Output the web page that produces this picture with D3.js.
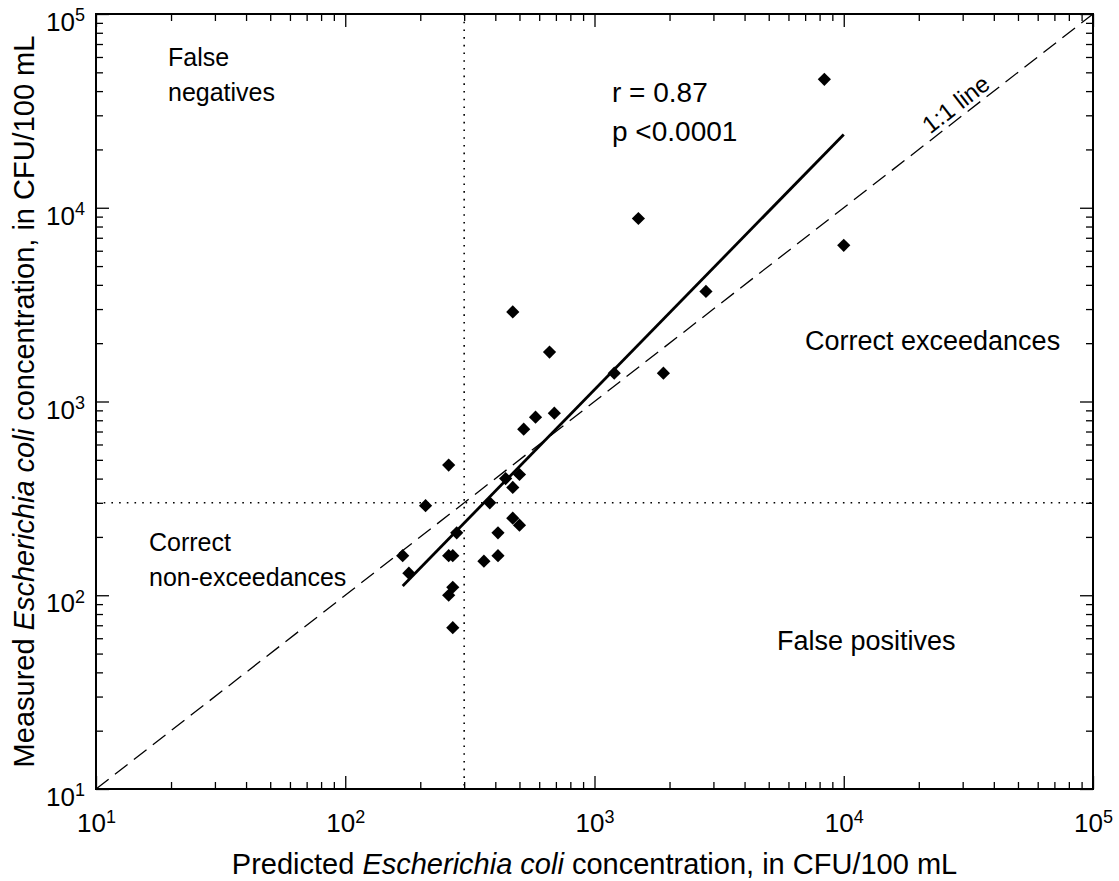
<!DOCTYPE html>
<meta charset="utf-8">
<style>
body { margin: 0; background: #fff; }
text { font-family: "Liberation Sans", Arial, sans-serif; fill: #000; }
</style>
<body>
  <div id="box1"></div>
</body>
<script src="https://d3js.org/d3.v7.min.js"></script>
<script>

// predicted vs measured E. coli, CFU/100 mL
var predicted = [8360, 1500, 10000, 2800, 470, 660, 1200, 1890, 580, 690,
                 520, 260, 440, 500, 470, 210, 380, 470, 500, 410,
                 280, 170, 260, 270, 410, 360, 180, 270, 260, 270];
var measured  = [46000, 8800, 6400, 3700, 2900, 1800, 1400, 1400, 830, 870,
                 720, 470, 400, 420, 360, 290, 300, 250, 230, 210,
                 210, 160, 160, 160, 160, 150, 130, 110, 100, 68];

// log-log regression fit: log10(y) = intercept + slope*log10(x)
var fitSlope = 1.317, fitIntercept = -0.8896;
var fitRange = [170, 10000];
var threshold = 300;
var decades = [10, 100, 1000, 10000, 100000];
var quadLabels = [
  {lines: ["False", "negatives"], x: 168, y: 66, size: 25},
  {lines: ["Correct", "non-exceedances"], x: 149, y: 551, size: 25},
  {lines: ["Correct exceedances"], x: 805, y: 350, size: 27},
  {lines: ["False positives"], x: 777, y: 650, size: 27}
];
var statLines = ["r = 0.87", "p <0.0001"];

var width = 1119, height = 881;
var margin = ({top: 14, right: 26, bottom: 92, left: 96});

var x = d3.scaleLog().domain([10, 100000]).range([margin.left, width - margin.right]);
var y = d3.scaleLog().domain([10, 100000]).range([height - margin.bottom, margin.top]);

var minor = [];
decades.slice(0, 4).forEach(function(d) {
  for (var k = 2; k <= 9; k++) minor.push(d * k);
});

var svg = d3.select('#box1').append("svg")
    .attr("width", width)
    .attr("height", height);

var x0 = margin.left, x1 = width - margin.right,
    y0 = height - margin.bottom, y1 = margin.top;

function styleAxis(g) {
  g.select(".domain").remove();
  g.selectAll(".tick line").attr("stroke", "#000").attr("stroke-width", 1.3);
}

// minor ticks on all four sides, pointing inward
svg.append("g").attr("transform", "translate(0," + y0 + ")")
  .call(d3.axisBottom(x).tickValues(minor).tickSize(-7).tickFormat("")).call(styleAxis);
svg.append("g").attr("transform", "translate(0," + y1 + ")")
  .call(d3.axisTop(x).tickValues(minor).tickSize(-7).tickFormat("")).call(styleAxis);
svg.append("g").attr("transform", "translate(" + x0 + ",0)")
  .call(d3.axisLeft(y).tickValues(minor).tickSize(-7).tickFormat("")).call(styleAxis);
svg.append("g").attr("transform", "translate(" + x1 + ",0)")
  .call(d3.axisRight(y).tickValues(minor).tickSize(-7).tickFormat("")).call(styleAxis);

// major ticks
var bottomAxis = svg.append("g").attr("transform", "translate(0," + y0 + ")")
  .call(d3.axisBottom(x).tickValues(decades).tickSize(-13).tickPadding(25).tickFormat(function() { return "10"; }))
  .call(styleAxis);
var leftAxis = svg.append("g").attr("transform", "translate(" + x0 + ",0)")
  .call(d3.axisLeft(y).tickValues(decades).tickSize(-13).tickPadding(11).tickFormat(function() { return "10"; }))
  .call(styleAxis);
svg.append("g").attr("transform", "translate(0," + y1 + ")")
  .call(d3.axisTop(x).tickValues(decades).tickSize(-13).tickFormat("")).call(styleAxis);
svg.append("g").attr("transform", "translate(" + x1 + ",0)")
  .call(d3.axisRight(y).tickValues(decades).tickSize(-13).tickFormat("")).call(styleAxis);

// y labels sit a little low so the exponent lines up with the tick
leftAxis.selectAll(".tick text").attr("dy", "0.64em");

[bottomAxis, leftAxis].forEach(function(g) {
  g.selectAll(".tick text")
    .attr("fill", "#000")
    .style("font-size", "26px")
    .append("tspan")
    .attr("dy", "-0.55em")
    .style("font-size", "18px")
    .text(function(d) { return Math.round(Math.log10(d)); });
});

// frame
svg.append("rect")
  .attr("x", x0).attr("y", y1)
  .attr("width", x1 - x0).attr("height", y0 - y1)
  .attr("fill", "none").attr("stroke", "#000").attr("stroke-width", 2);

// threshold lines
svg.append("line")
  .attr("x1", x(threshold)).attr("x2", x(threshold))
  .attr("y1", y1).attr("y2", y0)
  .attr("stroke", "#000").attr("stroke-width", 1.6).attr("stroke-dasharray", "1.6,6.1");
svg.append("line")
  .attr("x1", x0).attr("x2", x1)
  .attr("y1", y(threshold)).attr("y2", y(threshold))
  .attr("stroke", "#000").attr("stroke-width", 1.6).attr("stroke-dasharray", "1.6,6.1");

// 1:1 line
svg.append("line")
  .attr("x1", x(10)).attr("y1", y(10))
  .attr("x2", x(100000)).attr("y2", y(100000))
  .attr("stroke", "#000").attr("stroke-width", 1.3).attr("stroke-dasharray", "16,8");

// regression line
var line = d3.line()
  .x(function(d) { return x(d); })
  .y(function(d) { return y(Math.pow(10, fitIntercept + fitSlope * Math.log10(d))); });
svg.append("path")
  .datum(fitRange)
  .attr("d", line)
  .attr("fill", "none").attr("stroke", "#000").attr("stroke-width", 2.8);

// points
svg.append("g")
  .selectAll("path")
  .data(predicted)
  .join("path")
    .attr("transform", function(d, i) { return "translate(" + x(d) + "," + y(measured[i]) + ")"; })
    .attr("d", "M0,-6.6L6.6,0L0,6.6L-6.6,0Z")
    .attr("fill", "#000");

// quadrant labels
quadLabels.forEach(function(q) {
  var t = svg.append("text").attr("x", q.x).attr("y", q.y).style("font-size", q.size + "px");
  q.lines.forEach(function(s, i) {
    t.append("tspan").attr("x", q.x).attr("dy", i == 0 ? 0 : 35).text(s);
  });
});

// stats
var st = svg.append("text").attr("x", 612).attr("y", 102).style("font-size", "28px");
statLines.forEach(function(s, i) {
  st.append("tspan").attr("x", 612).attr("dy", i == 0 ? 0 : 39).text(s);
});

// 1:1 label along dashed line
var ang = Math.atan2(y(10) - y(100000), x(100000) - x(10)) * 180 / Math.PI;
var lx = x(Math.pow(10, 4.47)), ly = y(Math.pow(10, 4.47));
svg.append("text")
  .attr("transform", "translate(" + lx + "," + (ly - 6) + ") rotate(" + (-ang) + ")")
  .attr("text-anchor", "middle")
  .style("font-size", "24px")
  .text("1:1 line");

// axis titles
var xt = svg.append("text")
  .attr("x", (x0 + x1) / 2).attr("y", 874)
  .attr("text-anchor", "middle")
  .style("font-size", "29px");
xt.append("tspan").text("Predicted ");
xt.append("tspan").style("font-style", "italic").text("Escherichia coli");
xt.append("tspan").text(" concentration, in CFU/100 mL");

var yt = svg.append("text")
  .attr("transform", "translate(34," + ((y0 + y1) / 2) + ") rotate(-90)")
  .attr("text-anchor", "middle")
  .style("font-size", "29px");
yt.append("tspan").text("Measured ");
yt.append("tspan").style("font-style", "italic").text("Escherichia coli");
yt.append("tspan").text(" concentration, in CFU/100 mL");

</script>
